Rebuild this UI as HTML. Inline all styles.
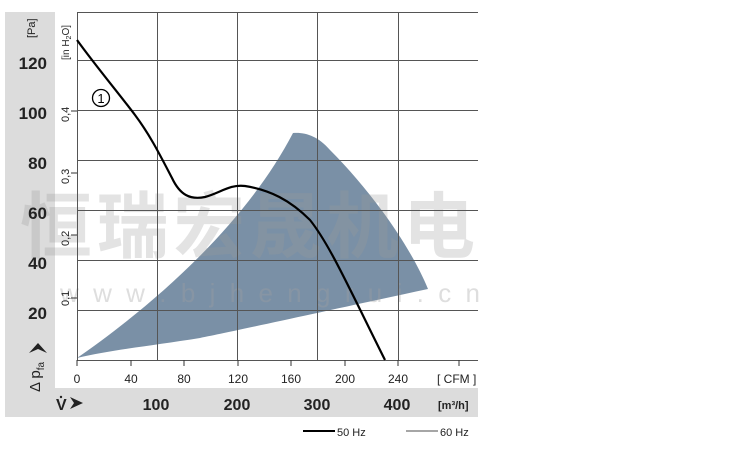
<!DOCTYPE html>
<html><head><style>
body{margin:0;width:750px;height:448px;background:#fff;overflow:hidden;font-family:"Liberation Sans",Arial,sans-serif}
</style></head><body>
<svg width="750" height="448" viewBox="0 0 750 448" xmlns="http://www.w3.org/2000/svg" font-family="Liberation Sans, Arial, sans-serif">
<rect x="5" y="12" width="473" height="405" fill="#dcdcdc"/>
<rect x="55" y="12" width="423" height="376" fill="#fff"/>
<path d="M77,358 C135,318 240,235 293,133 C305,132 318,136 330,150 C370,190 410,245 428,289 C330,310 240,330 200,338 C150,346 110,350 77,358 Z" fill="#7a90a6"/>
<text x="20" y="252" font-family="Noto Sans CJK SC, sans-serif" font-size="72" font-weight="bold" fill="#9a9a9a" fill-opacity="0.28" textLength="455">恒瑞宏晟机电</text>
<text x="60" y="302" font-size="26" fill="#a0a0a0" fill-opacity="0.35" textLength="420">w w w . b j h e n g r u i . c n</text>
<g stroke="#555" stroke-width="1" fill="none">
<line x1="77" y1="12.5" x2="478" y2="12.5"/>
<line x1="77" y1="60.5" x2="478" y2="60.5"/>
<line x1="77" y1="110.5" x2="478" y2="110.5"/>
<line x1="77" y1="160.5" x2="478" y2="160.5"/>
<line x1="77" y1="210.5" x2="478" y2="210.5"/>
<line x1="77" y1="260.5" x2="478" y2="260.5"/>
<line x1="77" y1="310.5" x2="478" y2="310.5"/>
<line x1="77" y1="360.5" x2="478" y2="360.5"/>
<line x1="77.5" y1="12" x2="77.5" y2="360"/>
<line x1="157.5" y1="12" x2="157.5" y2="360"/>
<line x1="237.5" y1="12" x2="237.5" y2="360"/>
<line x1="317.5" y1="12" x2="317.5" y2="360"/>
<line x1="398.5" y1="12" x2="398.5" y2="360"/>
<g stroke="#333">
<line x1="77" y1="360" x2="77" y2="366"/><line x1="131" y1="360" x2="131" y2="366"/><line x1="184" y1="360" x2="184" y2="366"/><line x1="238" y1="360" x2="238" y2="366"/><line x1="291" y1="360" x2="291" y2="366"/><line x1="345" y1="360" x2="345" y2="366"/><line x1="398" y1="360" x2="398" y2="366"/><line x1="459" y1="360" x2="459" y2="366"/>
<line x1="71" y1="111" x2="77" y2="111"/><line x1="71" y1="173" x2="77" y2="173"/><line x1="71" y1="235" x2="77" y2="235"/><line x1="71" y1="298" x2="77" y2="298"/>
</g>
</g>
<path d="M77,40 C95,65 120,95 135,115 C150,135 160,155 172,178 C180,195 190,200 205,197 C220,193 230,184 245,186 C270,190 290,200 310,220 C330,245 350,290 385,360" fill="none" stroke="#000" stroke-width="2.2"/>
<circle cx="101" cy="98" r="8.5" fill="#fff" stroke="#000" stroke-width="1.3"/>
<text x="101" y="103" font-size="13" text-anchor="middle">1</text>
<g font-size="17" font-weight="bold" fill="#222" text-anchor="end">
<text x="47" y="69">120</text><text x="47" y="119">100</text><text x="47" y="169">80</text><text x="47" y="219">60</text><text x="47" y="269">40</text><text x="47" y="319">20</text>
</g>
<text transform="translate(35,38) rotate(-90)" font-size="11" fill="#222">[Pa]</text>
<text transform="translate(69,60) rotate(-90)" font-size="10" fill="#222">[in H<tspan font-size="7" dy="2">2</tspan><tspan dy="-2">O]</tspan></text>
<g font-size="11" fill="#222">
<text transform="translate(69,122) rotate(-90)">0,4</text>
<text transform="translate(69,184) rotate(-90)">0,3</text>
<text transform="translate(69,246) rotate(-90)">0,2</text>
<text transform="translate(69,306) rotate(-90)">0,1</text>
</g>
<text transform="translate(40,392) rotate(-90)" font-size="15" fill="#222">Δ p<tspan font-size="10" dy="4">fa</tspan></text>
<path d="M29,353 L38,343 L47,353 L38,349 Z" fill="#222"/>
<g font-size="12" fill="#222" text-anchor="middle">
<text x="77" y="383">0</text><text x="131" y="383">40</text><text x="184" y="383">80</text><text x="238" y="383">120</text><text x="291" y="383">160</text><text x="345" y="383">200</text><text x="398" y="383">240</text>
</g>
<text x="437" y="383" font-size="12" fill="#222">[ CFM ]</text>
<text x="56" y="410" font-size="16" font-weight="bold" fill="#222">V</text>
<circle cx="61" cy="397" r="1.2" fill="#222"/>
<path d="M70,397 L83,403 L70,409 L74,403 Z" fill="#222"/>
<g font-size="16" font-weight="bold" fill="#222" text-anchor="middle">
<text x="156" y="410">100</text><text x="237" y="410">200</text><text x="317" y="410">300</text><text x="397" y="410">400</text>
</g>
<text x="438" y="409" font-size="11" font-weight="bold" fill="#222">[m³/h]</text>
<line x1="303" y1="431" x2="335" y2="431" stroke="#000" stroke-width="2"/>
<text x="337" y="436" font-size="11" fill="#222">50 Hz</text>
<line x1="406" y1="431" x2="438" y2="431" stroke="#888" stroke-width="1.5"/>
<text x="440" y="436" font-size="11" fill="#222">60 Hz</text>
</svg>
</body></html>
